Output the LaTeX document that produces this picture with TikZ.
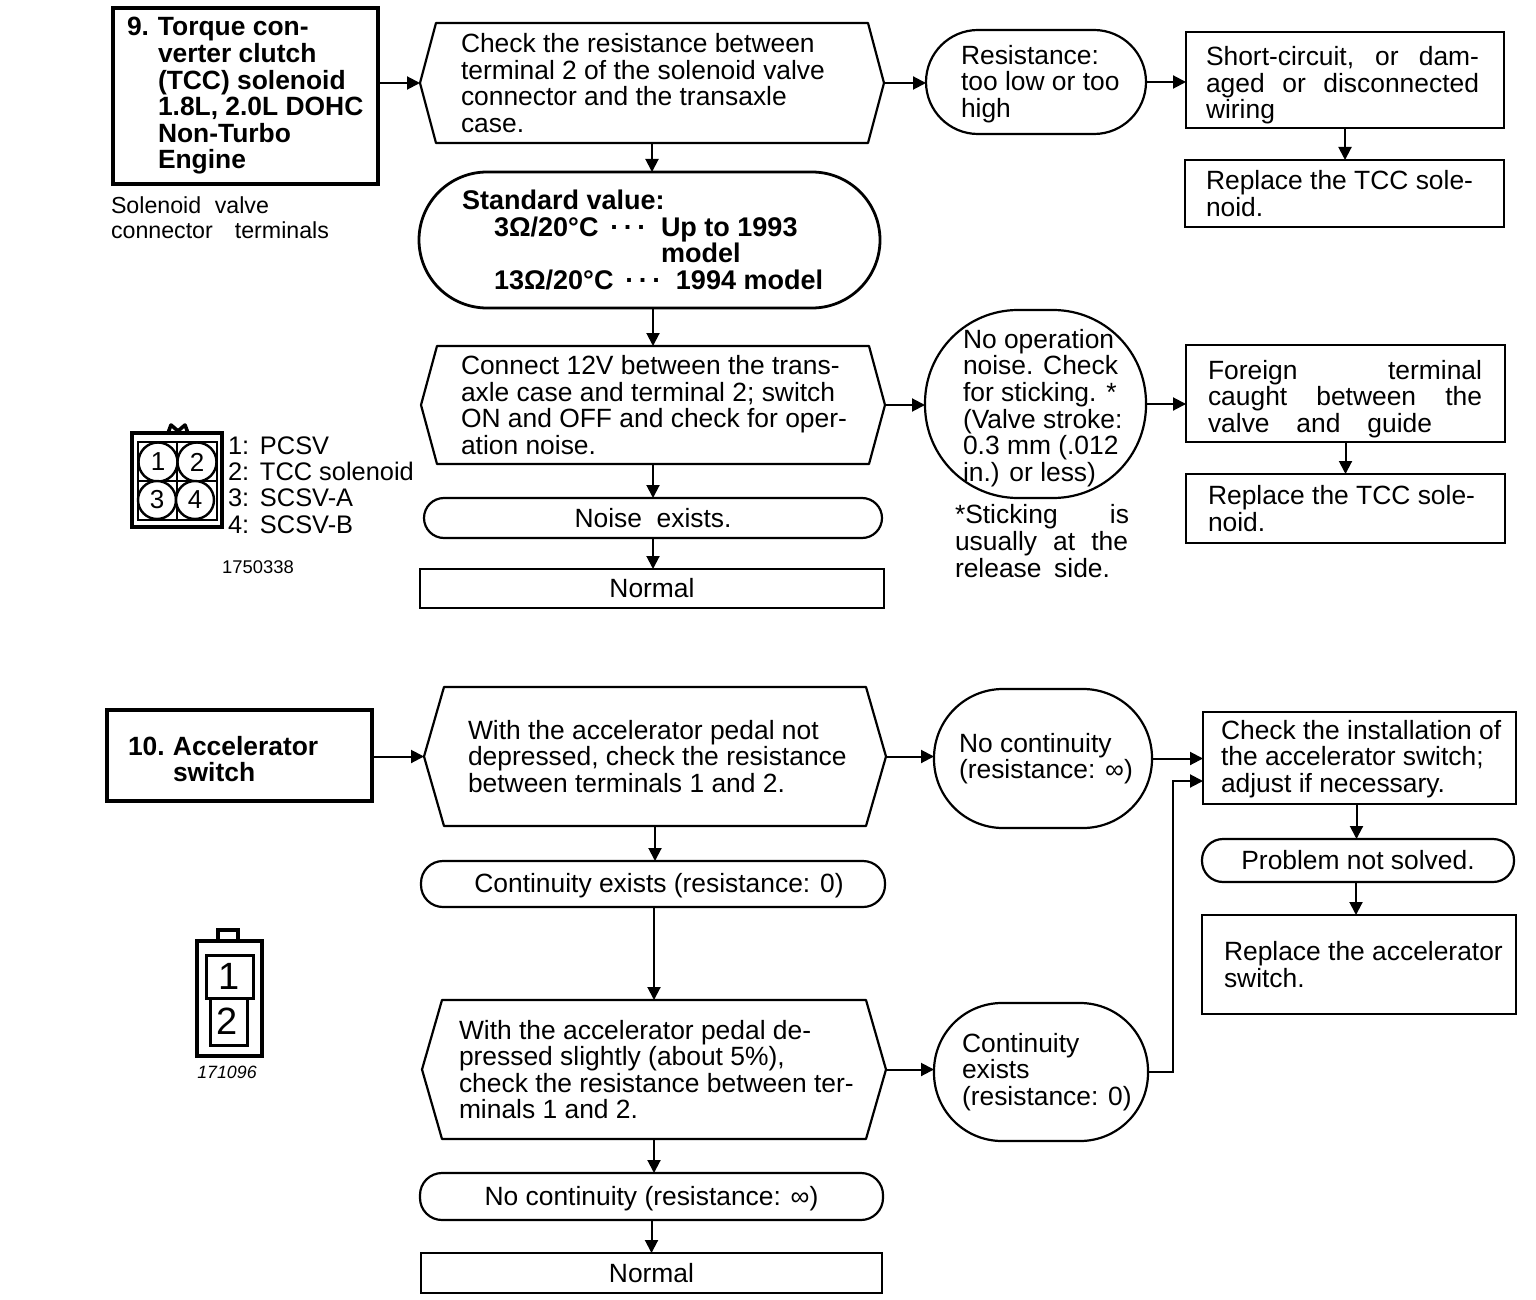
\documentclass[tikz,border=0pt]{standalone}
\usepackage{fontspec}
\setmainfont{Liberation Sans}
\usetikzlibrary{arrows.meta}
\newcommand{\mainf}{\fontsize{13.2pt}{13.3pt}\selectfont}
\newcommand{\boldf}{\fontsize{13.2pt}{13.3pt}\selectfont\bfseries}
\newcommand{\js}[2]{\makebox[\dimexpr #1pt/2\relax][s]{#2}}
\newcommand{\dn}[1]{\rule{0pt}{\dimexpr 9.6pt+#1pt\relax}}
% style, name, x1, y1, x2, y2, left pad, text
\newcommand{\shp}[8]{%
  \pgfmathsetmacro\shcx{(#3+#5)/2}\pgfmathsetmacro\shcy{(#4+#6)/2}%
  \pgfmathsetmacro\shw{(#5-#3)/2}\pgfmathsetmacro\shh{(#6-#4)/2}%
  \node[#1,minimum width=\shw pt,minimum height=\shh pt,text width=\shw pt] (#2) at (\shcx,\shcy) {\spaceskip=0pt\xspaceskip=0pt\leftskip=#7pt\leftskip=0.5\leftskip\relax #8\par};}
% name, x1, y1, x2, y2, inset px, left pad, text
\newcommand{\hexa}[8]{%
  \shp{plain}{#1}{#2}{#3}{#4}{#5}{#7}{#8}%
  \draw[hexline] (#1.west) -- ([xshift=#6*0.5pt]#1.north west) -- ([xshift=-#6*0.5pt]#1.north east) -- (#1.east)
    -- ([xshift=-#6*0.5pt]#1.south east) -- ([xshift=#6*0.5pt]#1.south west) -- cycle;}
\tikzset{
  plain/.style={inner sep=0pt,outer sep=0pt,align=left,font=\mainf},
  hexline/.style={line width=1.1pt,line join=round},
  titlebox/.style={plain,draw,line width=1.6pt,font=\boldf},
  rectbox/.style={plain,draw,line width=1.3pt},
  roundbox/.style={plain,draw,line width=1.1pt,rounded corners=#1},
  boldround/.style={plain,draw,line width=1.4pt,rounded corners=#1,font=\fontsize{13.5pt}{13.3pt}\selectfont\bfseries},
  centred/.style={align=center},
  freetext/.style={inner sep=0pt,outer sep=0pt,align=left,font=\mainf,anchor=west},
  smallcap/.style={inner sep=0pt,outer sep=0pt,font=\fontsize{9.2pt}{10pt}\selectfont},
  pin/.style={circle,draw,line width=1.2pt,inner sep=0pt,outer sep=0pt,minimum size=#1,font=\fontsize{13pt}{13pt}\selectfont},
  flow/.style={line width=1pt,-{Triangle[length=6.5pt,width=6.5pt]}},
}
\begin{document}
\begin{tikzpicture}[x=0.5pt,y=-0.5pt]
\useasboundingbox[fill=white] (0,0) rectangle (1536,1300);

% ---------- Section 9 ----------
\shp{titlebox}{box9}{113}{8}{378}{184}{14}{\makebox[15.5pt][l]{9.}Torque con-\\\hspace*{15.5pt}verter clutch\\\hspace*{15.5pt}(TCC) solenoid\\\hspace*{15.5pt}1.8L, 2.0L DOHC\\\hspace*{15.5pt}Non-Turbo\\\hspace*{15.5pt}Engine\par\vspace{5pt}}
\node[freetext,font=\fontsize{11.6pt}{12.6pt}\selectfont] (cap9) at (111,218) {\js{158}{Solenoid \ valve}\\\js{218}{connector \ terminals}};

\hexa{hex1}{420}{23}{884}{143}{16}{41}{Check the resistance between\\terminal 2 of the solenoid valve\\connector and the transaxle\\case.}
\shp{boldround={34pt}}{std}{419}{172}{880}{308}{43}{Standard value:\\\hspace*{16pt}\makebox[83.5pt][l]{3Ω/20°C \,·\,·\,·}Up to 1993\\\hspace*{83.5pt}\hspace*{16pt}model\\\hspace*{16pt}\makebox[91pt][l]{13Ω/20°C \,·\,·\,·}1994 model}
\shp{roundbox={26pt}}{res}{926}{30}{1146}{134}{35}{\dn{2}Resistance:\\too low or too\\high}
\shp{rectbox}{short}{1186}{32}{1504}{128}{20}{\dn{5.5}\js{273}{Short-circuit, \ or \ dam-}\\\js{273}{aged or disconnected}\\wiring}
\shp{rectbox}{rep1}{1185}{160}{1504}{227}{21}{Replace the TCC sole-\\noid.}

\hexa{hex2}{421}{346}{885}{464}{16}{40}{Connect 12V between the trans-\\axle case and terminal 2; switch\\ON and OFF and check for oper-\\ation noise.}
\shp{roundbox={10pt},centred}{noise}{424}{498}{882}{538}{0}{\centering Noise \ exists.}
\shp{rectbox,centred}{norm1}{420}{569}{884}{608}{0}{\centering Normal}
\shp{roundbox={46.5pt}}{noop}{925}{310}{1146}{498}{38}{\dn{4}No operation\\noise. Check\\for sticking. *\\(Valve stroke:\\0.3 mm (.012\\in.) or less)}
\shp{rectbox}{foreign}{1186}{345}{1505}{442}{22}{\dn{5.5}\js{274}{Foreign terminal}\\\js{274}{caught between the}\\\js{224}{valve and guide}}
\shp{rectbox}{rep2}{1186}{474}{1505}{543}{22}{Replace the TCC sole-\\noid.}
\node[freetext] (note) at (955,541) {\js{174}{*Sticking is}\\\js{173}{usually at the}\\\js{155}{release side.}};

% connector icon 1
\draw[line width=2.3pt] (132,433) rectangle (222,527);
\draw[line width=1.2pt] (138,442) rectangle (217,520);
\draw[line width=0.9pt] (177,442) -- (177,520) (138,481) -- (217,481);
\draw[line width=1.8pt,line join=round] (168,433) -- (171,425) -- (178,431) -- (185,425) -- (188,433);
\node[pin=19.5pt,fill=white] (pin1) at (158,462) {1};
\node[pin=19.5pt,fill=white] (pin2) at (197,462) {2};
\node[pin=19pt,fill=white] (pin3) at (157,500) {3};
\node[pin=19pt,fill=white] (pin4) at (195,500) {4};
\node[freetext,font=\fontsize{12.7pt}{13.15pt}\selectfont] (legend) at (228,485) {\makebox[16pt][l]{1:}PCSV\\\makebox[16pt][l]{2:}TCC solenoid\\\makebox[16pt][l]{3:}SCSV-A\\\makebox[16pt][l]{4:}SCSV-B};
\node[smallcap] (code1) at (258,567) {1750338};

% ---------- Section 10 ----------
\shp{titlebox}{box10}{107}{710}{372}{801}{21}{\dn{3.5}\makebox[22.5pt][l]{10.}Accelerator\\\hspace*{22.5pt}switch}
\hexa{hex3}{424}{687}{886}{826}{20}{44}{With the accelerator pedal not\\depressed, check the resistance\\between terminals 1 and 2.}
\shp{roundbox={34.5pt}}{ncont}{934}{689}{1152}{828}{25}{No continuity\\(resistance: ∞)\par\vspace{9.5pt}}
\shp{rectbox}{check}{1203}{712}{1516}{804}{18}{\dn{1}Check the installation of\\the accelerator switch;\\adjust if necessary.}
\shp{roundbox={10.5pt},centred}{prob}{1202}{839}{1514}{882}{0}{\centering Problem not solved.}
\shp{rectbox}{rep3}{1202}{915}{1516}{1014}{22}{Replace the accelerator\\switch.}
\shp{roundbox={11pt},centred}{cont}{421}{861}{885}{907}{0}{\centering\dn{2}\hspace*{6pt}Continuity exists (resistance: 0)}
\hexa{hex4}{422}{1000}{886}{1139}{20}{37}{With the accelerator pedal de-\\pressed slightly (about 5\%),\\check the resistance between ter-\\minals 1 and 2.}
\shp{roundbox={34pt}}{cont2}{934}{1003}{1148}{1141}{28}{Continuity\\exists\\(resistance: 0)\par\vspace{5pt}}
\shp{roundbox={11pt},centred}{ncont2}{420}{1173}{883}{1220}{0}{\centering\dn{2}No continuity (resistance: ∞)}
\shp{rectbox,centred}{norm2}{421}{1253}{882}{1293}{0}{\centering Normal}

% connector icon 2
\draw[line width=1.8pt] (197,941) rectangle (262,1056);
\draw[line width=1.8pt] (218,941) -- (218,930) -- (238,930) -- (238,941);
\draw[line width=1.5pt] (210,998) rectangle (247,1045);
\draw[line width=1.5pt,fill=white] (206,955) rectangle (253,998);
\node[inner sep=0pt,font=\fontsize{19pt}{19pt}\selectfont] (dig1) at (229,976) {1};
\node[inner sep=0pt,font=\fontsize{19pt}{19pt}\selectfont] (dig2) at (227,1021) {2};
\node[smallcap,font=\fontsize{8.9pt}{10pt}\selectfont\itshape] (code2) at (227,1072) {171096};

% ---------- connectors ----------
\draw[flow] (hex1.west -| box9.east) -- (hex1.west);
\draw[flow] (hex1.east) -- (hex1.east -| res.west);
\draw[flow] (res.east) -- (res.east -| short.west);
\draw[flow] (short.south) -- (rep1.north -| short.south);
\draw[flow] (hex1.south) -- (hex1.south |- std.north);
\draw[flow] (hex2.north |- std.south) -- (hex2.north);
\draw[flow] (hex2.south) -- (hex2.south |- noise.north);
\draw[flow] (noise.south) -- (noise.south |- norm1.north);
\draw[flow] (hex2.east) -- (hex2.east -| noop.west);
\draw[flow] (noop.east) -- (noop.east -| foreign.west);
\draw[flow] (foreign.south) -- (rep2.north -| foreign.south);

\draw[flow] (hex3.west -| box10.east) -- (hex3.west);
\draw[flow] (hex3.east) -- (hex3.east -| ncont.west);
\draw[flow] (ncont.east) -- (ncont.east -| check.west);
\draw[flow] ([xshift=-1.5pt]check.south) -- ([xshift=-1.5pt]check.south |- prob.north);
\draw[flow] ([xshift=-1pt]prob.south) -- ([xshift=-1pt]prob.south |- rep3.north);
\draw[flow] (hex3.south) -- (hex3.south |- cont.north);
\draw[flow] (cont.south -| hex4.north) -- (hex4.north);
\draw[flow] (hex4.east) -- (hex4.east -| cont2.west);
\coordinate (inB) at (1203,781);
\coordinate (turnA) at (1173,1071);
\draw[flow] (cont2.east) -- (cont2.east -| turnA) -- (turnA |- inB) -- (inB);
\draw[flow] (hex4.south) -- (hex4.south |- ncont2.north);
\draw[flow] (ncont2.south) -- (ncont2.south |- norm2.north);
\end{tikzpicture}
\end{document}
